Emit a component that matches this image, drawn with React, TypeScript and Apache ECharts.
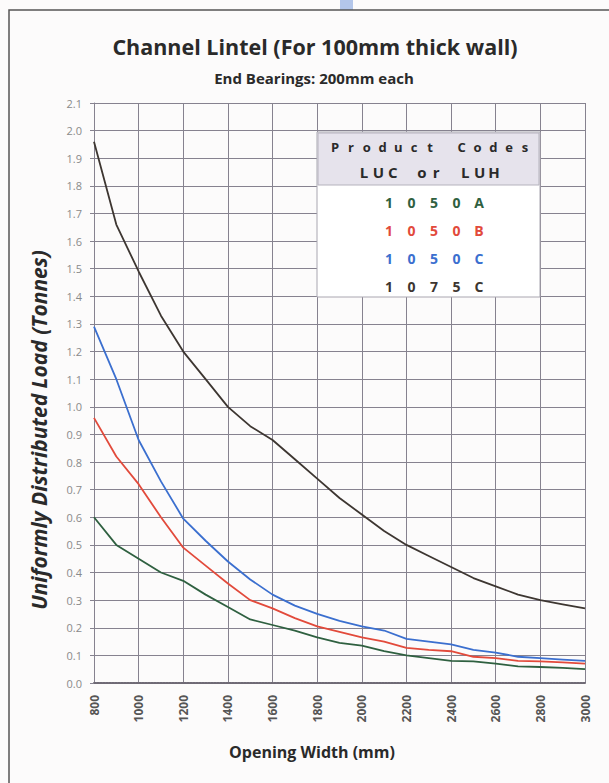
import React, { useEffect, useRef } from "react";
import * as echarts from "echarts";

const widths = [800, 900, 1000, 1100, 1200, 1300, 1400, 1500, 1600, 1700, 1800, 1900, 2000, 2100, 2200, 2300, 2400, 2500, 2600, 2700, 2800, 2900, 3000];
const load1075C = [1.96, 1.66, 1.49, 1.33, 1.2, 1.1, 1.0, 0.93, 0.88, 0.81, 0.74, 0.67, 0.61, 0.55, 0.5, 0.46, 0.42, 0.38, 0.35, 0.32, 0.3, 0.285, 0.27];
const load1050C = [1.29, 1.1, 0.88, 0.73, 0.595, 0.515, 0.44, 0.375, 0.32, 0.28, 0.25, 0.225, 0.205, 0.19, 0.16, 0.15, 0.14, 0.12, 0.11, 0.095, 0.09, 0.085, 0.08];
const load1050B = [0.96, 0.82, 0.72, 0.6, 0.49, 0.425, 0.36, 0.3, 0.27, 0.235, 0.205, 0.185, 0.165, 0.15, 0.127, 0.12, 0.115, 0.095, 0.09, 0.08, 0.078, 0.075, 0.07];
const load1050A = [0.6, 0.5, 0.45, 0.4, 0.37, 0.32, 0.275, 0.23, 0.21, 0.19, 0.165, 0.145, 0.135, 0.115, 0.1, 0.09, 0.08, 0.078, 0.07, 0.06, 0.058, 0.055, 0.05];

const seriesNames = ["1050A", "1050B", "1050C", "1075C"];
const seriesColors = ["#2f6040", "#e24a3b", "#3b6fcf", "#3d3631"];
const seriesData = [load1050A, load1050B, load1050C, load1075C];

const title = "Channel Lintel (For 100mm thick wall)";
const subtitle = "End Bearings: 200mm each";
const xTitle = "Opening Width (mm)";
const yTitle = "Uniformly Distributed Load (Tonnes)";
const legendHead1 = "Product Codes";
const legendHead2 = "LUC or LUH";

const FONT = "'Open Sans', Lato, sans-serif";

// place characters of a word individually, evenly spread between two centres
function spacedText(text: string, x0: number, x1: number, y: number, font: string, fill: string): any[] {
  const chars = text.split("");
  const step = chars.length > 1 ? (x1 - x0) / (chars.length - 1) : 0;
  return chars
    .map((c, i) => ({ c, i }))
    .filter((o) => o.c !== " ")
    .map((o) => ({
      type: "text",
      x: x0 + o.i * step,
      y,
      z: 20,
      style: { text: o.c, fill, font, align: "center", verticalAlign: "middle" },
    }));
}

export default function App() {
  const ref = useRef<HTMLDivElement>(null);
  useEffect(() => {
    if (!ref.current) return;
    const chart = echarts.init(ref.current, null, { renderer: "svg" });
    const legendRows: any[] = [];
    seriesNames.forEach((n, i) => {
      legendRows.push(...spacedText(n, 389, 479, 202 + i * 28, `bold 14px ${FONT}`, seriesColors[i]));
    });
    chart.setOption({
      animation: false,
      backgroundColor: "#fcfbfb",
      textStyle: { fontFamily: FONT },
      grid: { left: 94, right: 24, top: 103, bottom: 100, containLabel: false },
      xAxis: {
        type: "value",
        min: 800,
        max: 3000,
        interval: 200,
        axisLine: { show: true, lineStyle: { color: "#6f6a75", width: 2, type: [2, 1] } },
        axisTick: { show: false },
        splitLine: { show: true, lineStyle: { color: "#86828f", width: 1 } },
        axisLabel: {
          rotate: 90,
          margin: 12,
          color: "#555",
          fontSize: 12,
          fontWeight: "bold",
          fontFamily: FONT,
          formatter: (v: number) => String(v),
        },
      },
      yAxis: {
        type: "value",
        min: 0,
        max: 2.1,
        interval: 0.1,
        axisLine: { show: true, lineStyle: { color: "#86828f", width: 1 } },
        axisTick: { show: true, length: 4, lineStyle: { color: "#86828f" } },
        splitLine: { show: true, lineStyle: { color: "#86828f", width: 1 } },
        axisLabel: {
          margin: 12,
          color: "#8a8a8a",
          fontSize: 11,
          fontFamily: FONT,
          formatter: (v: number) => v.toFixed(1),
        },
      },
      series: seriesData.map((d, i) => ({
        name: seriesNames[i],
        type: "line",
        data: d.map((v, j) => [widths[j], v]),
        showSymbol: false,
        symbol: "none",
        smooth: false,
        lineStyle: { color: seriesColors[i], width: 1.8 },
        z: 3 + i,
      })),
      graphic: [
        {
          type: "rect",
          shape: { x: 340, y: 0, width: 13, height: 10 },
          style: { fill: "#b3c6ea" },
          z: 1,
        },
        {
          type: "rect",
          shape: { x: 9, y: 10, width: 640, height: 800 },
          style: { fill: "none", stroke: "#555", lineWidth: 1.5 },
          z: 1,
        },
        {
          type: "text",
          x: 315,
          y: 46,
          style: { text: title, fill: "#2a2a2a", font: `bold 21.5px ${FONT}`, align: "center", verticalAlign: "middle" },
        },
        {
          type: "text",
          x: 314,
          y: 78,
          style: { text: subtitle, fill: "#2a2a2a", font: `bold 15px ${FONT}`, align: "center", verticalAlign: "middle" },
        },
        {
          type: "text",
          x: 312,
          y: 752,
          style: { text: xTitle, fill: "#2a2a2a", font: `bold 16px ${FONT}`, align: "center", verticalAlign: "middle" },
        },
        {
          type: "text",
          x: 39,
          y: 430,
          rotation: Math.PI / 2,
          style: { text: yTitle, fill: "#2a2a2a", font: `italic bold 21px ${FONT}`, align: "center", verticalAlign: "middle" },
        },
        {
          type: "rect",
          shape: { x: 317, y: 132, width: 223, height: 165 },
          style: { fill: "#ffffff", stroke: "#a9a6b0", lineWidth: 1 },
          z: 10,
        },
        {
          type: "rect",
          shape: { x: 318, y: 133, width: 221, height: 52 },
          style: { fill: "#e6e3ec", stroke: "#b5b2bd", lineWidth: 1 },
          z: 11,
        },
        ...spacedText(legendHead1, 335, 525, 147, `bold 13px ${FONT}`, "#2a2a2a"),
        ...spacedText(legendHead2, 364, 494, 172, `bold 15px ${FONT}`, "#2a2a2a"),
        ...legendRows,
      ],
    });
    return () => chart.dispose();
  }, []);
  return <div ref={ref} style={{ position: "fixed", left: 0, top: 0, width: 609, height: 783 }} />;
}
